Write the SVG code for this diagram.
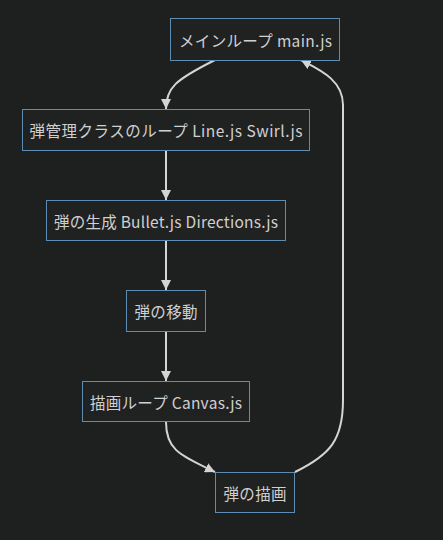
<svg xmlns="http://www.w3.org/2000/svg" width="443" height="540" viewBox="0 0 443 540">
<defs>
<marker id="arr" viewBox="0 0 10 10" refX="10" refY="5" markerWidth="10" markerHeight="10" markerUnits="userSpaceOnUse" orient="auto">
<path d="M0,0 L10,5 L0,10 z" fill="#d4d4d4"/>
</marker>
</defs>
<style>
.n rect{fill:#202222;stroke:#5e8db4;stroke-width:1}
.n text{fill:#d0d0d0;font-family:"Noto Sans CJK JP","Noto Sans",sans-serif;font-size:15.5px;text-anchor:middle;dominant-baseline:central}
.e path{fill:none;stroke:#d4d4d4;stroke-width:2;marker-end:url(#arr)}
</style>
<rect width="443" height="540" fill="#1e1f1f"/>
<g class="e" id="edges">
<path d="M215,60 C175,80 166,88 166,109"/>
<path d="M166,151 L166,200"/>
<path d="M166,241 L166,290"/>
<path d="M166,332 L166,381"/>
<path d="M166,422 C166,450 180,455 215,472"/>
<path d="M295,472 C330,455 343,440 343,400 L343,105 C343,80 320,70 301,60"/>
</g>
<g class="n" id="main"><rect x="170.5" y="18.5" width="169" height="42"/><text x="255.5" y="39.5" textLength="153" lengthAdjust="spacing">メインループ main.js</text></g>
<g class="n" id="line"><rect x="22.5" y="109.5" width="287" height="41"/><text x="166" y="130" textLength="273" lengthAdjust="spacing">弾管理クラスのループ Line.js Swirl.js</text></g>
<g class="n" id="bullet"><rect x="46.5" y="200.5" width="239" height="40"/><text x="166" y="220.5" textLength="224" lengthAdjust="spacing">弾の生成 Bullet.js Directions.js</text></g>
<g class="n" id="move"><rect x="126.5" y="290.5" width="79" height="41"/><text x="166" y="311" textLength="63" lengthAdjust="spacing">弾の移動</text></g>
<g class="n" id="canvas"><rect x="82.5" y="381.5" width="167" height="40"/><text x="166" y="401.5" textLength="152" lengthAdjust="spacing">描画ループ Canvas.js</text></g>
<g class="n" id="draw"><rect x="215.5" y="472.5" width="79" height="40"/><text x="255" y="492.5" textLength="63" lengthAdjust="spacing">弾の描画</text></g>
</svg>
